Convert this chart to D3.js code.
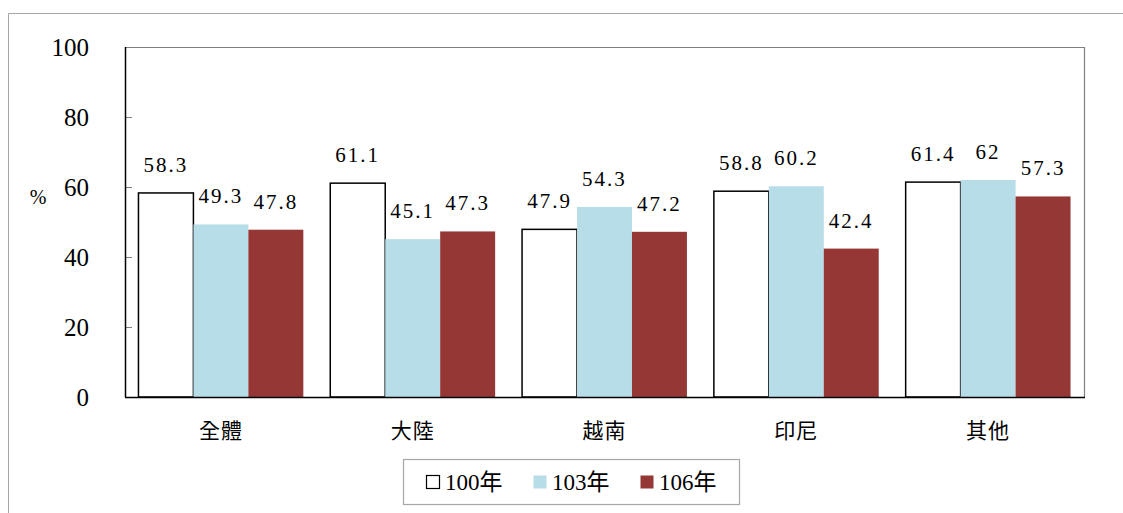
<!DOCTYPE html>
<html>
<head>
<meta charset="utf-8">
<script src="https://cdn.jsdelivr.net/npm/d3@7"></script>
<style>
  body { margin: 0; background: #fff; }
  svg { display: block; }
</style>
</head>
<body>
<svg id="chart" width="1123" height="513"></svg>
<script>
// data
const categories = ['全體', '大陸', '越南', '印尼', '其他'];
const seriesNames = ['100年', '103年', '106年'];
const values100 = [58.3, 61.1, 47.9, 58.8, 61.4];
const values103 = [49.3, 45.1, 54.3, 60.2, 62];
const values106 = [47.8, 47.3, 47.2, 42.4, 57.3];
const yTicks = [0, 20, 40, 60, 80, 100];

const colours = ['#ffffff', '#b7dde8', '#953735'];
const strokes = ['#000000', 'none', 'none'];
const serif = '"Liberation Serif", "Times New Roman", "DejaVu Serif", serif';
const cjk = '"Liberation Serif", "Noto Sans CJK TC", serif';

const series = [values100, values103, values106];

const svg = d3.select('#chart');

// outer frame (only top and left show in the page)
svg.append('path')
  .attr('d', 'M8.5,513 V13.5 H1123')
  .attr('fill', 'none')
  .attr('stroke', '#a6a6a6')
  .attr('stroke-width', 1);

const plot = {left: 125, right: 1084, top: 47, bottom: 397};

const x0 = d3.scaleBand()
  .domain(categories)
  .range([plot.left, plot.right]);

const x1 = d3.scaleBand()
  .domain(d3.range(seriesNames.length))
  .range([0, x0.bandwidth()])
  .paddingInner(0)
  .paddingOuter(0.245);

const y = d3.scaleLinear()
  .domain([0, 100])
  .range([plot.bottom, plot.top]);

// plot border: grey top/right
svg.append('path')
  .attr('d', `M${plot.left},${plot.top + 0.5} H${plot.right + 0.5} V${plot.bottom}`)
  .attr('fill', 'none')
  .attr('stroke', '#808080')
  .attr('stroke-width', 1.2);

// bars
categories.forEach((cat, ci) => {
  const g = svg.append('g').attr('transform', `translate(${x0(cat)},0)`);
  series.forEach((vals, si) => {
    const v = vals[ci];
    g.append('rect')
      .attr('x', x1(si))
      .attr('y', y(v))
      .attr('width', x1.bandwidth())
      .attr('height', y(0) - y(v))
      .attr('fill', colours[si])
      .attr('stroke', strokes[si])
      .attr('stroke-width', 1.5);
    g.append('text')
      .attr('font-family', serif)
      .attr('x', x1(si) + x1.bandwidth() / 2)
      .attr('y', y(v) - 21)
      .attr('text-anchor', 'middle')
      .attr('font-size', 21)
      .attr('letter-spacing', 2)
      .attr('fill', '#000')
      .text(v);
  });
});

// y axis
const yAxis = d3.axisLeft(y)
  .tickValues(yTicks)
  .tickSize(0)
  .tickPadding(36);

svg.append('g')
  .attr('transform', `translate(${plot.left},0)`)
  .call(yAxis)
  .attr('font-family', serif)
  .attr('font-size', 25)
  .call(g => g.select('.domain').remove())
  .call(g => g.selectAll('text').attr('fill', '#000'));

// inner tick marks
svg.append('g').selectAll('line')
  .data(yTicks.slice(1, -1))
  .join('line')
  .attr('x1', plot.left)
  .attr('x2', plot.left + 7)
  .attr('y1', d => y(d) + 0.5)
  .attr('y2', d => y(d) + 0.5)
  .attr('stroke', '#808080');

// axis lines
svg.append('line')
  .attr('x1', plot.left + 0.5).attr('x2', plot.left + 0.5)
  .attr('y1', plot.top).attr('y2', plot.bottom)
  .attr('stroke', '#000').attr('stroke-width', 1.5);
svg.append('line')
  .attr('x1', plot.left).attr('x2', plot.right + 1)
  .attr('y1', plot.bottom + 0.5).attr('y2', plot.bottom + 0.5)
  .attr('stroke', '#000').attr('stroke-width', 1.5);

// % label
svg.append('text')
  .attr('font-family', serif)
  .attr('x', 38)
  .attr('y', 204)
  .attr('text-anchor', 'middle')
  .attr('font-size', 20)
  .text('%');

// category labels
svg.append('g').selectAll('text')
  .data(categories)
  .join('text')
  .attr('font-family', cjk)
  .attr('x', d => x0(d) + x0.bandwidth() / 2)
  .attr('y', 438)
  .attr('text-anchor', 'middle')
  .attr('font-size', 21)
  .attr('letter-spacing', 1)
  .text(d => d);

// legend
const legend = svg.append('g');
legend.append('rect')
  .attr('x', 403.5).attr('y', 459.5)
  .attr('width', 336).attr('height', 45)
  .attr('fill', '#fff')
  .attr('stroke', '#a6a6a6')
  .attr('stroke-width', 1.2);

const legendX = [426, 533, 640];
seriesNames.forEach((name, i) => {
  legend.append('rect')
    .attr('x', legendX[i] + 0.5)
    .attr('y', 475.5)
    .attr('width', 13)
    .attr('height', 13)
    .attr('fill', colours[i])
    .attr('stroke', strokes[i])
    .attr('stroke-width', 1.2);
  legend.append('text')
    .attr('font-family', cjk)
    .attr('x', legendX[i] + 19)
    .attr('y', 490)
    .attr('font-size', 23)
    .text(name);
});
</script>
</body>
</html>
